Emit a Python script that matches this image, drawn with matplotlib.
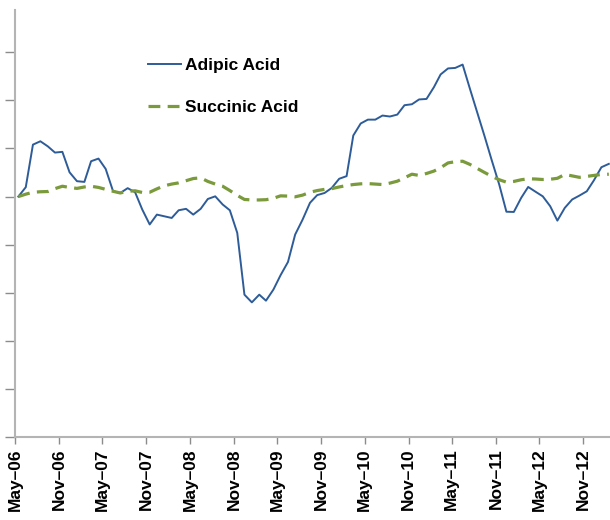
import matplotlib
matplotlib.use("Agg")
import matplotlib.pyplot as plt
import pandas as pd
from matplotlib.lines import Line2D

plt.rcParams['font.family'] = ['Liberation Sans', 'DejaVu Sans']

start_month = "2006-05"
adipic = [100, 103.9, 121.6, 123, 120.9, 118.3, 118.6, 110.1, 106.4, 106.1,
          114.7, 115.8, 111.5, 102.2, 101.5, 103.5, 101.8, 94.6, 88.4, 92.5,
          91.8, 91.1, 94.3, 94.9, 92.5, 94.9, 99.0, 100.1, 96.7, 94.3,
          84.9, 59.2, 56.0, 59.2, 56.7, 61.3, 67.3, 72.8, 84.2, 90.4,
          97.4, 100.6, 101.5, 103.6, 107.4, 108.5, 125.4, 130.4, 132.0, 132.0,
          133.7, 133.3, 134.1, 138.0, 138.4, 140.4, 140.6, 145.5, 150.8, 153.3,
          153.5, 154.9, 145.0, 135.0, 125.0, 115.0, 105.0, 93.7, 93.6, 99.5,
          104.0, 102.0, 100.1, 96.0, 90.0, 95.3, 98.8, 100.4, 102.2, 106.8,
          112.2, 113.6]
succinic = [100, 101, 101.8, 102, 102.1, 103.3, 104.3, 103.8, 103.4, 104,
             104.3, 103.8, 103, 102.2, 101.5, 102.2, 102.4, 101.7, 101.8, 103.2,
             104.5, 105.2, 105.7, 106.6, 107.5, 107.8, 106.3, 105.2, 104.3, 102.5,
             100.5, 98.8, 98.6, 98.6, 98.7, 99.3, 100.3, 100.2, 99.9, 100.6,
             101.8, 102.5, 103, 103.3, 104, 104.6, 105, 105.3, 105.4, 105.2,
             105, 105.6, 106.4, 107.8, 109.3, 108.8, 109.6, 110.6, 112, 114,
             114.5, 114.7, 113.4, 111.7, 110, 108.4, 107, 106, 106.3, 107,
             107.4, 107.3, 107.1, 107.2, 107.6, 109.2, 108.6, 108, 108.4, 108.8,
             109.2, 109.3]
series_labels = ["Adipic Acid", "Succinic Acid"]

dates = pd.date_range(start_month + "-01", periods=len(adipic), freq="MS") + pd.Timedelta(days=14)

fig = plt.figure(figsize=(6.1, 5.2), dpi=100)
ax = fig.add_axes([15/610, 83/520, 595/610, 427/520])

blue = "#2e5c98"
green = "#7a9a3c"
dash = (3.7, 2.3)
ax.plot(dates, adipic, color=blue, lw=1.4, solid_joinstyle='round')
ax.plot(dates, succinic, color=green, lw=2.3, dashes=dash)

ax.set_xlim(pd.Timestamp("2006-05-01"), pd.Timestamp("2013-02-20"))
ax.set_ylim(0, 177.6)
ax.set_yticks(range(0, 180, 20))
ax.set_yticklabels([])

ticks = pd.date_range("2006-05-01", "2012-11-01", freq="6MS")
ax.set_xticks(ticks)
ax.set_xticklabels([d.strftime("%b–%y") for d in ticks], rotation=90,
                   fontsize=12.5, fontweight='bold')

for s in ['top', 'right']:
    ax.spines[s].set_visible(False)
for s in ['left', 'bottom']:
    ax.spines[s].set_color("#b4b4b4")
    ax.spines[s].set_linewidth(1.5)
ax.tick_params(axis='y', direction='out', length=7, width=1, color="#8c8c8c")
ax.tick_params(axis='x', direction='out', length=5, width=1, color="#8c8c8c", pad=3)

handles = [Line2D([], [], color=blue, lw=1.4),
           Line2D([], [], color=green, lw=2.3, dashes=dash)]
leg = ax.legend(handles, series_labels, loc='upper left',
                bbox_to_anchor=(117/595, (437-42)/427), frameon=False,
                handlelength=1.9, handletextpad=0.25, labelspacing=1.55,
                prop={'size': 12.5, 'weight': 'bold'})

fig.savefig("out.png", dpi=100)
